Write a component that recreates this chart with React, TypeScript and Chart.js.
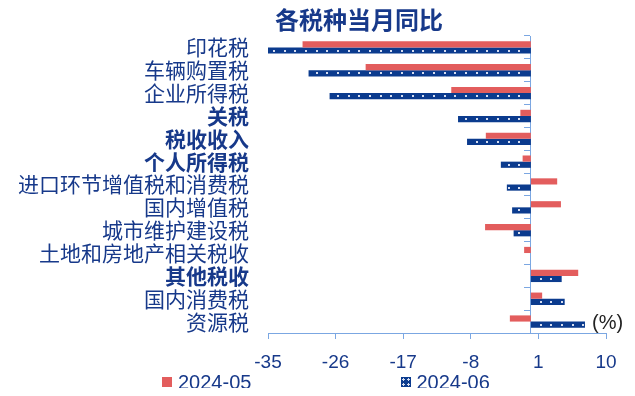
import React, { useEffect, useRef } from "react";
import { Chart, registerables } from "chart.js";

Chart.register(...registerables);

const categories = [
  "印花税",
  "车辆购置税",
  "企业所得税",
  "关税",
  "税收收入",
  "个人所得税",
  "进口环节增值税和消费税",
  "国内增值税",
  "城市维护建设税",
  "土地和房地产相关税收",
  "其他税收",
  "国内消费税",
  "资源税",
];
const boldLabels = ["关税", "税收收入", "个人所得税", "其他税收"];

const seriesMay = [-30.4, -22.0, -10.6, -1.4, -6.0, -1.1, 3.5, 4.0, -6.1, -0.9, 6.3, 1.5, -2.8];
const seriesJun = [-35.0, -29.6, -26.8, -9.7, -8.5, -4.0, -3.2, -2.5, -2.3, null, 4.1, 4.5, 7.2];

const seriesNames = ["2024-05", "2024-06"];
const xMin = -35;
const xMax = 10;
const xStep = 9;

const title = "各税种当月同比";
const unitLabel = "(%)";

const RED = "#e35d5d";
const BLUE = "#0b3b8e";
const TEXT_BLUE = "#17398a";
const AXIS = "#7ba7e2";

const dotsPlugin = {
  id: "dots",
  afterDatasetsDraw(chart: any) {
    const meta = chart.getDatasetMeta(1);
    const ctx = chart.ctx;
    const start = chart.scales.x.left + 6;
    const step = 10.67;
    ctx.save();
    ctx.fillStyle = "#d6ddef";
    meta.data.forEach((el: any, i: number) => {
      const v = seriesJun[i];
      if (v === null || v === undefined) return;
      const left = Math.min(el.x, el.base);
      const right = Math.max(el.x, el.base);
      const cy = el.y;
      for (let x = start; x < right - 1; x += step) {
        if (x > left + 1) ctx.fillRect(Math.round(x) - 1, Math.round(cy) - 1, 2, 2);
      }
    });
    ctx.restore();
  },
};

const textPlugin = {
  id: "texts",
  afterDraw(chart: any) {
    const ctx = chart.ctx;
    const area = chart.chartArea;
    ctx.save();
    ctx.fillStyle = TEXT_BLUE;
    ctx.font = 'bold 24px "Noto Sans CJK SC", sans-serif';
    ctx.textAlign = "center";
    ctx.textBaseline = "middle";
    ctx.fillText(title, 351, 12);
    ctx.fillStyle = "#222222";
    ctx.font = '20px "Liberation Sans", Arial, sans-serif';
    ctx.textAlign = "left";
    ctx.fillText(unitLabel, area.right - 14, area.bottom - 10);
    ctx.restore();
  },
};

export default function App() {
  const ref = useRef<HTMLCanvasElement | null>(null);

  useEffect(() => {
    if (!ref.current) return;
    const chart = new Chart(ref.current, {
      type: "bar",
      data: {
        labels: categories,
        datasets: [
          {
            label: seriesNames[0],
            data: seriesMay,
            backgroundColor: RED,
            categoryPercentage: 0.54,
            barPercentage: 1.0,
            yAxisID: "y",
          },
          {
            label: seriesNames[1],
            data: seriesJun as any,
            backgroundColor: BLUE,
            categoryPercentage: 0.54,
            barPercentage: 1.0,
            yAxisID: "y",
          },
        ],
      },
      options: {
        indexAxis: "y",
        animation: false,
        responsive: false,
        maintainAspectRatio: false,
        layout: { padding: { top: 28, right: 21, bottom: 9, left: 0 } },
        plugins: {
          legend: { display: false },
          tooltip: { enabled: false },
          title: { display: false },
        },
        scales: {
          x: {
            type: "linear",
            min: xMin,
            max: xMax,
            ticks: {
              stepSize: xStep,
              color: TEXT_BLUE,
              padding: 12,
              font: { family: '"Liberation Sans", Arial, sans-serif', size: 19 },
            },
            grid: {
              drawOnChartArea: false,
              drawTicks: true,
              tickLength: 6,
              color: AXIS,
            },
            border: { display: true, color: AXIS, width: 1 },
            afterFit: (scale: any) => {
              scale.height = 46;
              scale.paddingLeft = 0;
              scale.paddingRight = 0;
              scale.paddingTop = 0;
              scale.paddingBottom = 0;
            },
          } as any,
          y: {
            type: "category",
            position: "left",
            offset: true,
            ticks: {
              autoSkip: false,
              padding: 19,
              color: TEXT_BLUE,
              font: (c: any) => ({
                family: '"Noto Sans CJK SC", sans-serif',
                size: 21,
                weight: boldLabels.includes(categories[c.index]) ? "bold" : "normal",
              }),
            },
            grid: { display: false, drawTicks: false },
            border: { display: false },
            afterFit: (scale: any) => {
              scale.width = 260;
              scale.paddingTop = 0;
              scale.paddingBottom = 0;
              scale.paddingLeft = 0;
              scale.paddingRight = 0;
            },
          } as any,
          y2: {
            type: "category",
            position: { x: 0 } as any,
            offset: true,
            ticks: { display: false },
            grid: {
              offset: true,
              drawOnChartArea: false,
              drawTicks: true,
              tickLength: 6,
              color: AXIS,
            },
            border: { display: true, color: AXIS, width: 1 },
            afterFit: (scale: any) => {
              scale.paddingTop = 0;
              scale.paddingBottom = 0;
              scale.paddingLeft = 0;
              scale.paddingRight = 0;
            },
          } as any,
        },
      },
      plugins: [dotsPlugin, textPlugin],
    });
    return () => chart.destroy();
  }, []);

  const legendText: React.CSSProperties = {
    fontFamily: '"Liberation Sans", Arial, sans-serif',
    fontSize: 20,
    color: TEXT_BLUE,
    lineHeight: "20px",
  };

  return (
    <div style={{ position: "relative", width: 619, height: 380 }}>
      <canvas ref={ref} width={619} height={380} style={{ position: "absolute", left: 0, top: 0 }} />
      <div
        style={{
          position: "absolute",
          left: 154,
          top: 364,
          display: "flex",
          alignItems: "center",
          gap: 150,
        }}
      >
        <div style={{ display: "flex", alignItems: "center", gap: 6 }}>
          <div style={{ width: 10, height: 10, background: RED }} />
          <span style={legendText}>{seriesNames[0]}</span>
        </div>
        <div style={{ display: "flex", alignItems: "center", gap: 5 }}>
          <div
            style={{
              width: 10,
              height: 10,
              backgroundColor: BLUE,
              backgroundImage: "radial-gradient(circle, #d6ddef 1px, transparent 1.4px)",
              backgroundSize: "5px 5px",
            }}
          />
          <span style={legendText}>{seriesNames[1]}</span>
        </div>
      </div>
    </div>
  );
}
